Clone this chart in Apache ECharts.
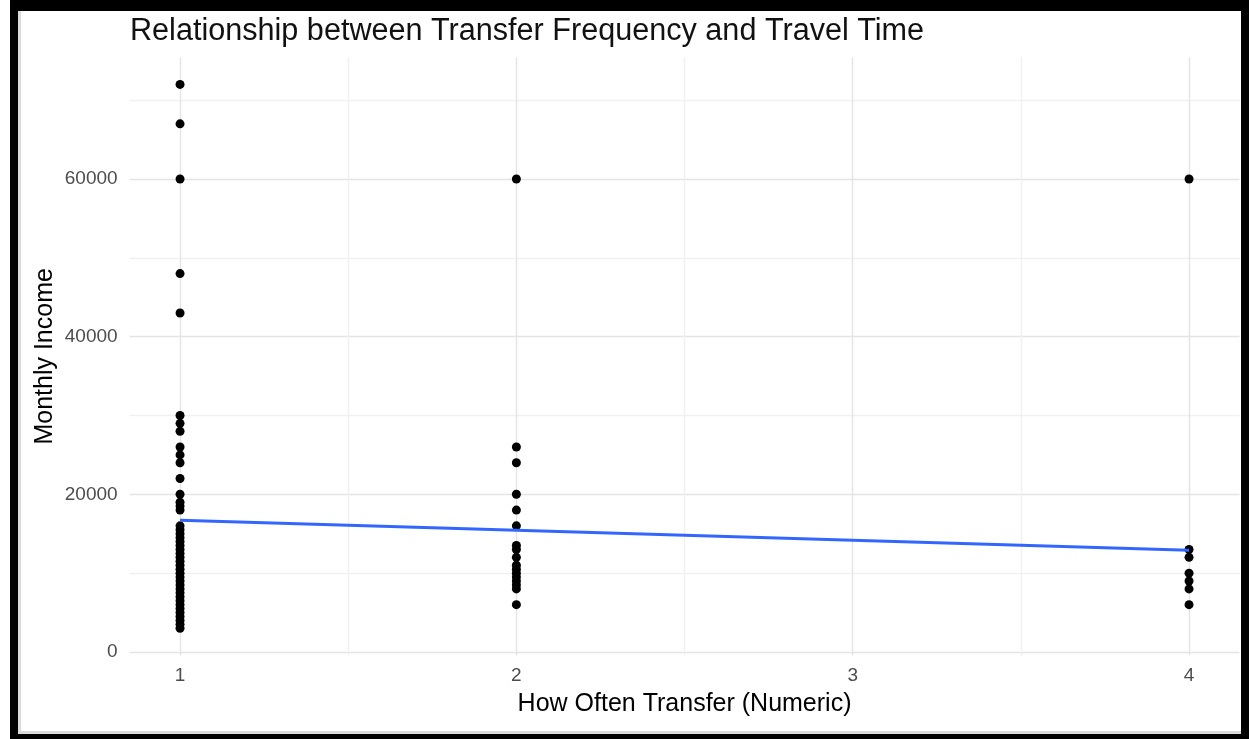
<!DOCTYPE html>
<html>
<head>
<meta charset="utf-8">
<title>Relationship between Transfer Frequency and Travel Time</title>
<script src="https://cdn.jsdelivr.net/npm/echarts@6/dist/echarts.min.js"></script>
<style>
  html, body { margin: 0; padding: 0; background: #ffffff; }
  #wrap { position: relative; width: 1249px; height: 739px; overflow: hidden; }
  #chart { position: absolute; left: 0; top: 0; width: 1249px; height: 739px; }
  #frame {
    position: absolute; left: 10px; top: 0; width: 1239px; height: 739px;
    box-sizing: border-box; border-style: solid; border-color: #000;
    border-width: 11px 8px 5px 8px; pointer-events: none;
  }
  #inner {
    position: absolute; left: 18px; top: 11px; width: 1223px; height: 723px;
    box-sizing: border-box; border-left: 3px solid #dadada; border-bottom: 3px solid #dadada;
    pointer-events: none;
  }
</style>
</head>
<body>
<div id="wrap">
  <div id="chart"></div>
  <div id="inner"></div>
  <div id="frame"></div>
</div>
<script>
// Monthly income of respondents, grouped by how often they transfer
const incomeTransfer1 = [72000, 67000, 60000, 48000, 43000, 30000, 29000, 28000, 26000, 25000, 24000,
  22000, 20000, 19000, 18500, 18000, 16000, 15500, 15000, 14500, 14000, 13500, 13000, 12500, 12000,
  11500, 11000, 10500, 10000, 9500, 9000, 8500, 8000, 7500, 7000, 6500, 6000, 5500, 5000, 4500,
  4000, 3500, 3000];
const incomeTransfer2 = [60000, 26000, 24000, 20000, 18000, 16000, 13500, 13000, 12000, 11000, 10500,
  10000, 9500, 9000, 8500, 8000, 6000];
const incomeTransfer4 = [60000, 13000, 12000, 10000, 9000, 8000, 6000];

// Linear fit (income ~ transfer frequency), end points
const fitX = [1, 4];
const fitY = [16700, 12900];

// Axis ticks and grid lines
const xLabelTicks = [1, 2, 3, 4];
const xGridTicks = [1, 1.5, 2, 2.5, 3, 3.5, 4];
const yLabelTicks = [0, 20000, 40000, 60000];
const yGridTicks = [0, 10000, 20000, 30000, 40000, 50000, 60000, 70000];

const groups = [[1, incomeTransfer1], [2, incomeTransfer2], [4, incomeTransfer4]];
const points = [];
groups.forEach(([x, vals]) => vals.forEach(v => points.push([x, v])));
const fitLine = fitX.map((x, i) => [x, fitY[i]]);

const majorGrid = '#e4e4e4';
const minorGrid = '#f1f1f1';
const font = '"Liberation Sans", Arial, sans-serif';

const chart = echarts.init(document.getElementById('chart'), null, { renderer: 'canvas' });
chart.setOption({
  animation: false,
  backgroundColor: '#ffffff',
  title: {
    text: 'Relationship between Transfer Frequency and Travel Time',
    left: 130, top: 16, padding: 0,
    textStyle: { fontFamily: font, fontSize: 30.6, fontWeight: 'normal', color: '#111111' }
  },
  grid: { left: 129.6, right: 9.5, top: 57.2, bottom: 83.5, containLabel: false },
  xAxis: {
    type: 'value', min: 0.85, max: 4.15,
    name: 'How Often Transfer (Numeric)', nameLocation: 'middle', nameGap: 36,
    nameMoveOverlap: false,
    nameTextStyle: { fontFamily: font, fontSize: 25, color: '#000000' },
    axisLine: { show: false },
    axisTick: { show: false, customValues: xGridTicks },
    axisLabel: { customValues: xLabelTicks, margin: 11, fontFamily: font, fontSize: 19, color: '#4d4d4d' },
    splitLine: { show: true, lineStyle: { color: [majorGrid, minorGrid], width: 1.4 } }
  },
  yAxis: {
    type: 'value', min: -450, max: 75450,
    name: 'Monthly Income', nameLocation: 'middle', nameGap: 72, nameRotate: 90,
    nameMoveOverlap: false,
    nameTextStyle: { fontFamily: font, fontSize: 25, color: '#000000' },
    axisLine: { show: false },
    axisTick: { show: false, customValues: yGridTicks },
    axisLabel: {
      customValues: yLabelTicks, margin: 12, fontFamily: font, fontSize: 19, color: '#4d4d4d',
      formatter: v => String(v)
    },
    splitLine: { show: true, lineStyle: { color: [majorGrid, minorGrid], width: 1.4 } }
  },
  series: [
    {
      type: 'scatter', data: points, symbol: 'circle', symbolSize: 9,
      itemStyle: { color: '#000000', opacity: 1 }, z: 2
    },
    {
      type: 'line', data: fitLine, showSymbol: false, symbol: 'none',
      lineStyle: { color: '#3366FF', width: 3 }, z: 3
    }
  ]
});
</script>
</body>
</html>
